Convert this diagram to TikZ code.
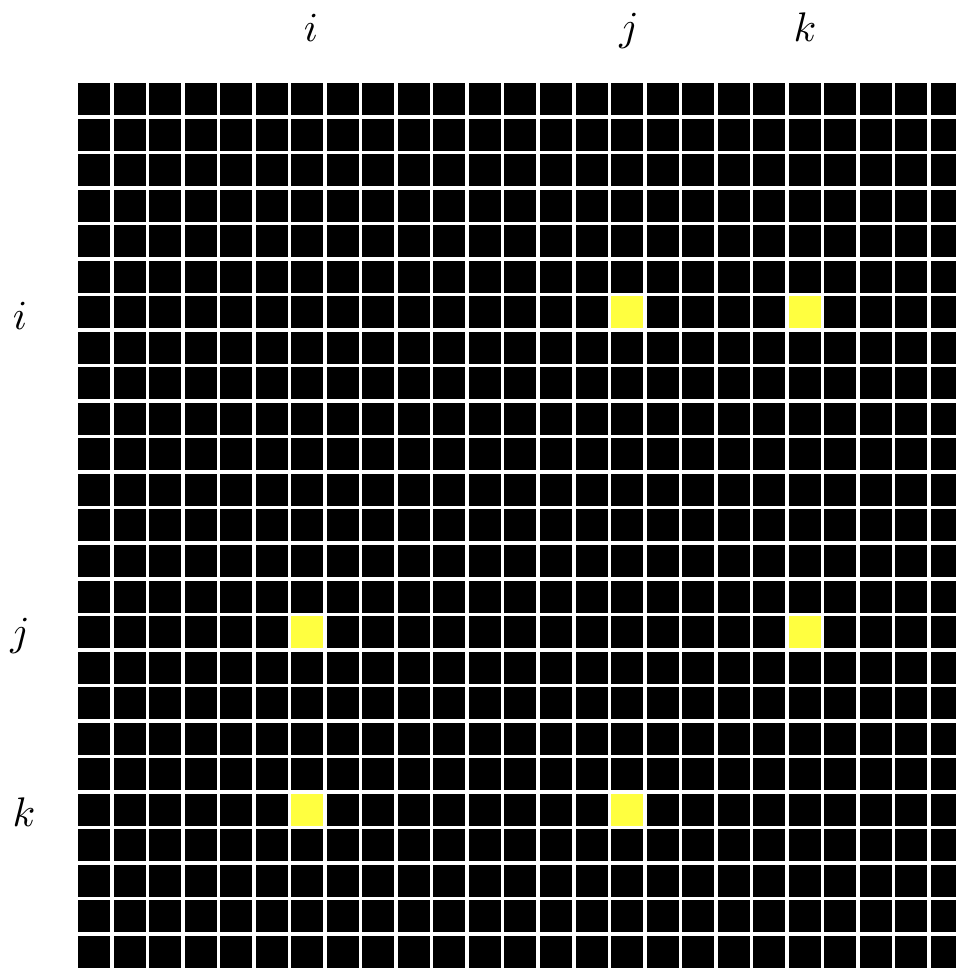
\documentclass[tikz,border=0pt]{standalone}
\usepackage{tikz}
\definecolor{hl}{RGB}{255,255,64}
\begin{document}
\begin{tikzpicture}[x=0.75pt,y=-0.75pt,
  cellbox/.style={fill=black,draw=none,minimum size=24pt,inner sep=0pt,outer sep=0pt,anchor=north west},
  hlbox/.style={cellbox,fill=hl},
  lbl/.style={scale=3.1,inner sep=0pt}]
\useasboundingbox (0,0) rectangle (956,968);
\clip (0,0) rectangle (956,968);
\foreach \r in {0,...,24}{
  \foreach \c in {0,...,24}{
    \pgfmathsetmacro{\xx}{78+\c*35.54}
    \pgfmathsetmacro{\yy}{83+\r*35.54}
    \node[cellbox] (cell-\r-\c) at (\xx,\yy) {};
  }
}
\foreach \r/\c in {6/15,6/20,15/6,15/20,20/6,20/15}{
  \pgfmathsetmacro{\xx}{78+\c*35.54}
  \pgfmathsetmacro{\yy}{83+\r*35.54}
  \node[hlbox] (hl-\r-\c) at (\xx,\yy) {};
}
\node[lbl] (ti) at (311,28) {$i$};
\node[lbl] (tj) at (629,31) {$j$};
\node[lbl] (tk) at (805,27) {$k$};
\node[lbl] (li) at (20,316) {$i$};
\node[lbl] (lj) at (20,636) {$j$};
\node[lbl] (lk) at (24,812) {$k$};
\end{tikzpicture}
\end{document}
